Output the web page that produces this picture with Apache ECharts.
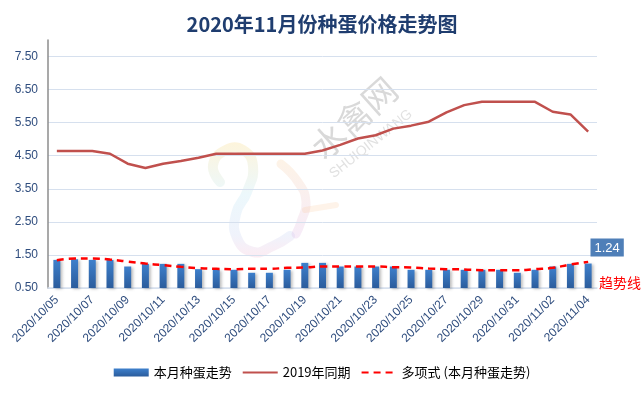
<!DOCTYPE html>
<html>
<head>
<meta charset="utf-8">
<script src="https://cdn.jsdelivr.net/npm/echarts@6/dist/echarts.min.js"></script>
<style>
html,body{margin:0;padding:0;background:#fff;}
#chart{width:644px;height:393px;}
</style>
</head>
<body>
<div id="chart"></div>
<script>
const titleText = '2020年11月份种蛋价格走势图';
const categories = ['2020/10/05','2020/10/06','2020/10/07','2020/10/08','2020/10/09','2020/10/10','2020/10/11','2020/10/12','2020/10/13','2020/10/14','2020/10/15','2020/10/16','2020/10/17','2020/10/18','2020/10/19','2020/10/20','2020/10/21','2020/10/22','2020/10/23','2020/10/24','2020/10/25','2020/10/26','2020/10/27','2020/10/28','2020/10/29','2020/10/30','2020/10/31','2020/11/01','2020/11/02','2020/11/03','2020/11/04'];
const thisMonth = [1.35,1.37,1.35,1.35,1.15,1.23,1.23,1.23,1.07,1.05,1.05,0.96,0.96,1.05,1.26,1.26,1.15,1.15,1.15,1.15,1.05,1.05,1.05,1.05,1.05,1.05,0.96,1.05,1.15,1.23,1.24];
const lastYear = [4.64,4.64,4.64,4.56,4.26,4.13,4.26,4.34,4.44,4.56,4.56,4.56,4.56,4.56,4.56,4.66,4.83,5.02,5.12,5.32,5.41,5.53,5.81,6.03,6.13,6.13,6.13,6.13,5.83,5.75,5.23];
const trend = [1.34,1.39,1.39,1.36,1.30,1.24,1.19,1.14,1.10,1.08,1.07,1.08,1.08,1.11,1.12,1.15,1.15,1.15,1.15,1.13,1.12,1.09,1.07,1.06,1.04,1.04,1.04,1.07,1.11,1.21,1.29];
const yTicks = {min:0.5, max:8, interval:1};
const seriesNames = ['本月种蛋走势','2019年同期','多项式 (本月种蛋走势)'];
const trendNote = '趋势线';
const watermark = ['水禽网','SHUIQINWANG'];

const chart = echarts.init(document.getElementById('chart'));
const labelColor = '#2f4d7e';
const lastIdx = thisMonth.length - 1;
const barData = thisMonth.map((v,i)=> i===lastIdx ? {
  value:v,
  label:{show:true,position:'top',offset:[19,-2],formatter:p=>Number(p.value).toFixed(2),
    backgroundColor:'#4f7fb8',color:'#fff',fontSize:13,fontFamily:'Liberation Sans',padding:[3,4,2,4]}
} : v);

const neckGrad = new echarts.graphic.LinearGradient(0,0,0,1,[
  {offset:0,color:'#f7cf5e'},{offset:0.45,color:'#a9dff0'},{offset:0.8,color:'#b9c8f0'},{offset:1,color:'#f2a9c8'}]);
const wingGrad = new echarts.graphic.LinearGradient(0,0,0,1,[
  {offset:0,color:'#f8c98f'},{offset:1,color:'#d7a6e2'}]);

chart.setOption({
  animation:false,
  backgroundColor:'#ffffff',
  title:{text:titleText,left:'center',top:9,textStyle:{fontFamily:'Noto Sans CJK SC',fontSize:20,fontWeight:'bold',color:'#1f3d6f'}},
  legend:{
    top:361,left:'center',itemWidth:35,itemHeight:8,itemGap:10,
    textStyle:{fontFamily:'Noto Sans CJK SC',fontSize:13,color:'#000'},
    data:[
      {name:seriesNames[0],icon:'rect'},
      {name:seriesNames[1],itemStyle:{opacity:0}},
      {name:seriesNames[2],itemStyle:{opacity:0}}
    ]
  },
  grid:{left:48,right:47,top:40,bottom:105},
  xAxis:{
    type:'category',data:categories,
    axisLine:{lineStyle:{color:'#d6e0ee',width:1.5}},
    axisTick:{show:false},
    axisLabel:{interval:1,rotate:45,fontSize:12,color:labelColor,fontFamily:'Liberation Sans',margin:10}
  },
  yAxis:{
    type:'value',min:yTicks.min,max:yTicks.max,interval:yTicks.interval,
    axisLine:{show:true,lineStyle:{color:'#8c8c8c',width:1.5}},
    axisTick:{show:false},
    axisLabel:{showMaxLabel:false,fontSize:12,color:labelColor,fontFamily:'Liberation Sans',margin:10,formatter:v=>v.toFixed(2)},
    splitLine:{showMaxLine:false,lineStyle:{color:'#d6e0ee',width:1}}
  },
  graphic:[
    {type:'polyline',z:0,silent:true,shape:{smooth:0.5,points:[[220,182],[213,165],[226,150],[243,150],[253,166],[247,192],[236,214],[237,238],[253,252],[273,246],[290,236]]},
      style:{stroke:neckGrad,lineWidth:10,fill:null,opacity:0.22,lineCap:'round'}},
    {type:'polyline',z:0,silent:true,shape:{smooth:0.5,points:[[281,164],[298,182],[306,202],[301,222],[296,234]]},
      style:{stroke:wingGrad,lineWidth:9,fill:null,opacity:0.22,lineCap:'round'}},
    {type:'polyline',z:0,silent:true,shape:{points:[[305,210],[336,205]]},
      style:{stroke:'#f8c590',lineWidth:6,fill:null,opacity:0.2,lineCap:'round'}},
    {type:'text',x:354,y:118,rotation:0.73,z:0,style:{text:watermark[0],fontSize:34,fontFamily:'Noto Sans CJK SC',align:'center',verticalAlign:'middle',fill:'rgba(160,160,160,0.4)'}},
    {type:'text',x:371,y:144,rotation:0.67,z:0,style:{text:watermark[1],fontSize:14,fontFamily:'Liberation Sans',align:'center',verticalAlign:'middle',fill:'rgba(170,170,170,0.35)'}},
    {type:'text',x:599,y:276,z:10,style:{text:trendNote,fontSize:14,fontFamily:'Noto Sans CJK SC',fill:'#ff0000'}}
  ],
  series:[
    {
      name:seriesNames[0],type:'bar',data:barData,barWidth:7,
      itemStyle:{
        color:new echarts.graphic.LinearGradient(0,0,0,1,[{offset:0,color:'#3e80cc'},{offset:1,color:'#2b5c9c'}]),
        shadowColor:'rgba(0,0,0,0.25)',shadowBlur:3,shadowOffsetX:2,shadowOffsetY:1
      },
      z:2
    },
    {
      name:seriesNames[1],type:'line',data:lastYear,symbol:'none',
      lineStyle:{color:'#c0504d',width:2.5},itemStyle:{color:'#c0504d'},z:3
    },
    {
      name:seriesNames[2],type:'line',data:trend,symbol:'none',smooth:true,
      lineStyle:{color:'#ff0000',width:2.5,type:[7,5]},itemStyle:{color:'#ff0000'},z:4
    }
  ]
});
</script>
</body>
</html>
